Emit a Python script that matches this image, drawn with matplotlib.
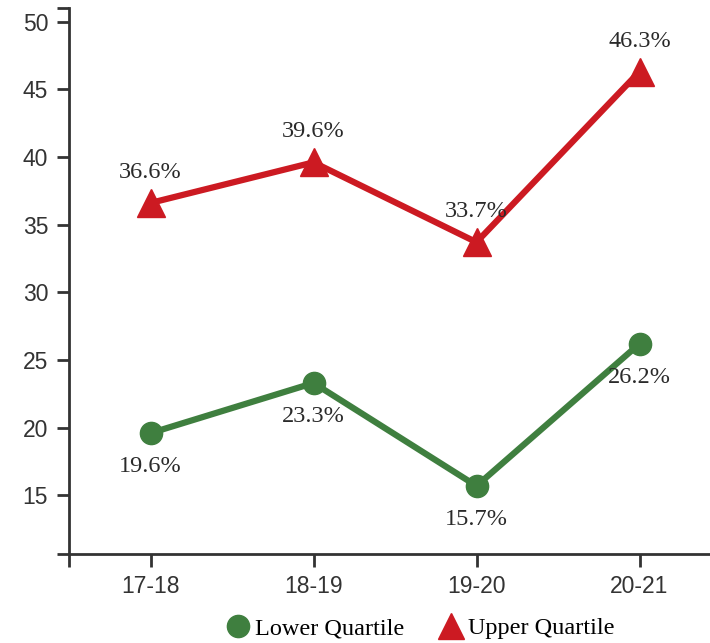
import matplotlib
matplotlib.use("Agg")
import matplotlib.pyplot as plt
from matplotlib.lines import Line2D

categories = ["17-18", "18-19", "19-20", "20-21"]
lower = [19.6, 23.3, 15.7, 26.2]
upper = [36.6, 39.6, 33.7, 46.3]
yticks = [15, 20, 25, 30, 35, 40, 45, 50]

green = "#3f7f3f"
red = "#cc1a22"
axis_col = "#333333"

fig = plt.figure(figsize=(7.10, 6.43), dpi=100)
ax = fig.add_axes([69/710, 89/643, 652/710, 546/643])

x = list(range(len(categories)))
ax.plot(x, upper, color=red, lw=4.5, marker="^", ms=20, mec=red, mfc=red, zorder=3, clip_on=False)
ax.plot(x, lower, color=green, lw=4.5, marker="o", ms=16, mec=green, mfc=green, zorder=3, clip_on=False)

serif = ["Liberation Serif", "DejaVu Serif"]
for xi, v in zip(x, upper):
    ax.annotate(f"{v}%", (xi, v), xytext=(0, 22), textcoords="offset points",
                ha="center", va="center", fontsize=17.5, family=serif, color="#2a2a2a")
for xi, v in zip(x, lower):
    ax.annotate(f"{v}%", (xi, v), xytext=(0, -24), textcoords="offset points",
                ha="center", va="center", fontsize=17.5, family=serif, color="#2a2a2a")

ax.set_xlim(-0.5, 3.5)
ax.set_ylim(10.67, 51.0)
ax.set_xticks(x)
ax.set_xticklabels(categories)
ax.set_yticks(yticks)
ax.set_yticks([10.67, 51.0], minor=True)
ax.set_xticks([-0.5], minor=True)

for s in ["top", "right"]:
    ax.spines[s].set_visible(False)
for s in ["left", "bottom"]:
    ax.spines[s].set_color(axis_col)
    ax.spines[s].set_linewidth(2)

ax.tick_params(which="both", length=9, width=2, color=axis_col, labelcolor=axis_col,
               labelsize=16.5, pad=6)
for lab in ax.get_xticklabels() + ax.get_yticklabels():
    lab.set_family(["Liberation Sans", "DejaVu Sans"])

handles = [
    Line2D([], [], ls="none", marker="o", ms=16, color=green),
    Line2D([], [], ls="none", marker="^", ms=19, color=red),
]
fig.legend(handles, ["Lower Quartile", "Upper Quartile"], loc="center",
           bbox_to_anchor=(420/710, 1 - 628/643), ncol=2, frameon=False,
           prop={"family": serif, "size": 17.5}, handletextpad=0.2,
           columnspacing=1.4, handlelength=1.0)

fig.savefig("out.png", dpi=100)
